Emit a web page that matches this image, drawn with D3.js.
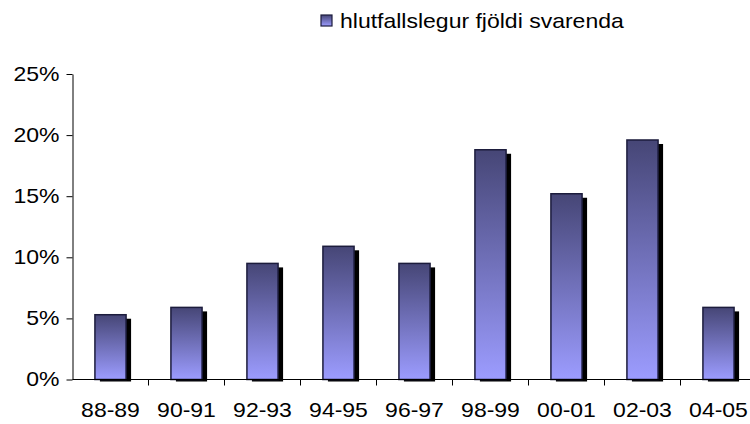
<!DOCTYPE html>
<html><head><meta charset="utf-8">
<script src="https://cdn.jsdelivr.net/npm/d3@7"></script>
<style>body{margin:0;background:#fff;}svg{display:block;font-family:"Liberation Sans",Arial,sans-serif;}</style>
</head><body>
<script>
const categories = ["88-89","90-91","92-93","94-95","96-97","98-99","00-01","02-03","04-05"];
const values = [0.053, 0.059, 0.095, 0.109, 0.095, 0.188, 0.152, 0.196, 0.059];
const yTicks = [0, 0.05, 0.10, 0.15, 0.20, 0.25];
const seriesName = "hlutfallslegur fjöldi svarenda";

const W = 750, H = 424, SX = 1.15;
const svg = d3.select("body").append("svg").attr("width", W).attr("height", H);
const defs = svg.append("defs");
const grad = defs.append("linearGradient").attr("id","g").attr("x1",0).attr("y1",0).attr("x2",0).attr("y2",1);
grad.append("stop").attr("offset","0%").attr("stop-color","#464676");
grad.append("stop").attr("offset","100%").attr("stop-color","#9c9cff");

const x0 = 72.5, yTop = 74, yBot = 379.5;
const x = d3.scaleBand().domain(categories).range([x0, x0 + 76*categories.length]).paddingInner(0.59).paddingOuter(0.295);
const y = d3.scaleLinear().domain([0, 0.25]).range([yBot, yTop]);

// shadows
svg.append("g").selectAll("rect").data(values).join("rect")
  .attr("x", (d,i) => x(categories[i]) + 5)
  .attr("y", d => y(d) + 4)
  .attr("width", x.bandwidth())
  .attr("height", d => yBot - y(d) - 2)
  .attr("fill", "#000");

// bars
svg.append("g").selectAll("rect").data(values).join("rect")
  .attr("x", (d,i) => x(categories[i]))
  .attr("y", d => y(d))
  .attr("width", x.bandwidth())
  .attr("height", d => yBot - y(d))
  .attr("fill", "url(#g)")
  .attr("stroke", "#1c1c3c")
  .attr("stroke-width", 1.5);

// y axis
const yAxis = d3.axisLeft(y).tickValues(yTicks).tickFormat(d3.format(".0%")).tickSize(6).tickSizeOuter(0);
const ya = svg.append("g").attr("transform", `translate(${x0},0)`).call(yAxis);
ya.select(".domain").attr("stroke","#000");
ya.selectAll("text").attr("font-size", 20).attr("font-family","Liberation Sans, Arial, sans-serif").attr("fill","#000")
  .attr("x", -13 / SX).attr("transform", `scale(${SX},1)`);

// x axis
const xAxis = d3.axisBottom(x).tickSize(0).tickSizeOuter(0);
const xa = svg.append("g").attr("transform", `translate(0,${yBot})`).call(xAxis);
xa.select(".domain").remove();
xa.append("line").attr("x1", x0).attr("x2", W).attr("stroke","#000");
xa.selectAll(".tick text").attr("font-size", 20).attr("font-family","Liberation Sans, Arial, sans-serif").attr("fill","#000")
  .attr("dy", 0).attr("y", 38).attr("transform", `scale(${SX},1)`);
// boundary ticks
const bounds = d3.range(1, categories.length + 1).map(i => x0 + i * x.step());
xa.selectAll(".btick").data(bounds).join("line").attr("class","btick")
  .attr("x1", d => d).attr("x2", d => d).attr("y1", 0).attr("y2", 6).attr("stroke","#000");

// legend
const lg = svg.append("g").attr("transform","translate(321,15)");
lg.append("rect").attr("width", 11).attr("height", 11).attr("fill","url(#g)").attr("stroke","#1c1c3c").attr("stroke-width",1.2);
lg.append("text").attr("x", 19 / SX).attr("y", 12.5).attr("font-size", 20).attr("fill","#000")
  .attr("transform", `scale(${SX},1)`).text(seriesName);
</script>
</body></html>
